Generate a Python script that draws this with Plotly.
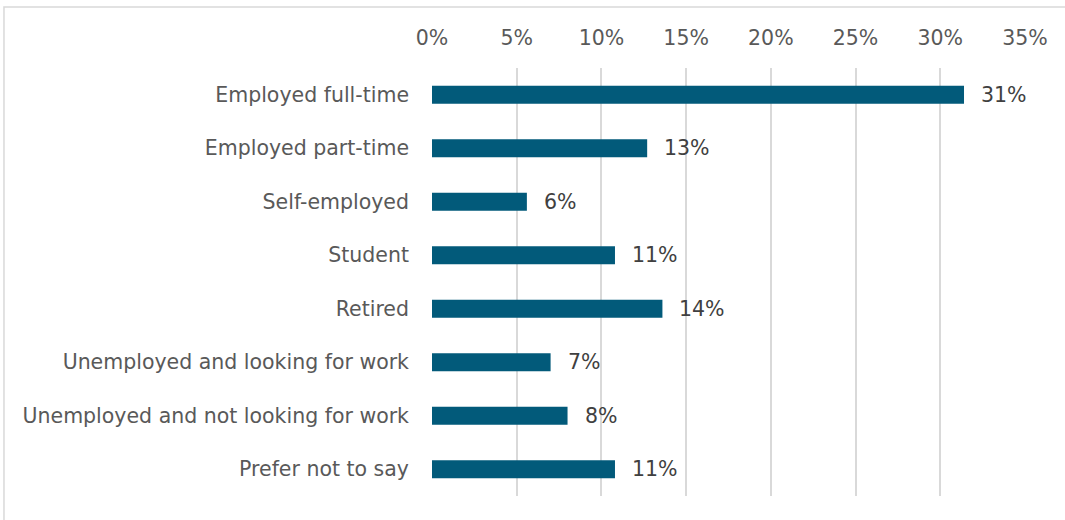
import plotly.graph_objects as go

# Employment status of respondents (share of total, %)
categories = [
    "Employed full-time",
    "Employed part-time",
    "Self-employed",
    "Student",
    "Retired",
    "Unemployed and looking for work",
    "Unemployed and not looking for work",
    "Prefer not to say",
]
shares = [31.4, 12.7, 5.6, 10.8, 13.6, 7.0, 8.0, 10.8]
tick_values = [0, 5, 10, 15, 20, 25, 30, 35]
tick_labels = [f"{v}%" for v in tick_values]

BAR_COLOR = "#025A7A"
TEXT_GRAY = "#595959"
LABEL_GRAY = "#404040"
FONT = "DejaVu Sans"
FONT_SIZE = 20.5

fig = go.Figure(
    go.Bar(
        x=shares,
        y=categories,
        orientation="h",
        marker=dict(color=BAR_COLOR, line=dict(width=0)),
        hoverinfo="skip",
    )
)

# value labels to the right of each bar
for cat, val in zip(categories, shares):
    fig.add_annotation(
        x=val, y=cat, xref="x", yref="y",
        text=f"{round(val)}%",
        showarrow=False, xanchor="left", xshift=15,
        font=dict(family=FONT, size=FONT_SIZE, color=LABEL_GRAY),
    )

# light frame around the chart area
fig.add_shape(
    type="rect", xref="paper", yref="paper",
    x0=-0.7218, x1=1.2, y0=-0.2, y1=1.1424,
    line=dict(color="#D9D9D9", width=1.5), fillcolor="rgba(0,0,0,0)",
    layer="below",
)

fig.update_layout(
    width=1065, height=520,
    margin=dict(l=432, r=40, t=68, b=24),
    paper_bgcolor="white", plot_bgcolor="white",
    bargap=0.66,
    showlegend=False,
    font=dict(family=FONT, size=FONT_SIZE, color=TEXT_GRAY),
    xaxis=dict(
        side="top", range=[0, 35],
        tickvals=tick_values, ticktext=tick_labels,
        showgrid=True, gridcolor="#D9D9D9", gridwidth=1.5,
        zeroline=False, showline=False, ticks="",
        ticklabelstandoff=18,
        tickfont=dict(family=FONT, size=FONT_SIZE, color=TEXT_GRAY),
        fixedrange=True,
    ),
    yaxis=dict(
        categoryorder="array", categoryarray=categories,
        autorange="reversed",
        showgrid=False, zeroline=False, showline=False, ticks="",
        ticklabelstandoff=22,
        tickfont=dict(family=FONT, size=FONT_SIZE, color=TEXT_GRAY),
        fixedrange=True,
    ),
)

fig.write_html("out.html", config={"displayModeBar": False})
